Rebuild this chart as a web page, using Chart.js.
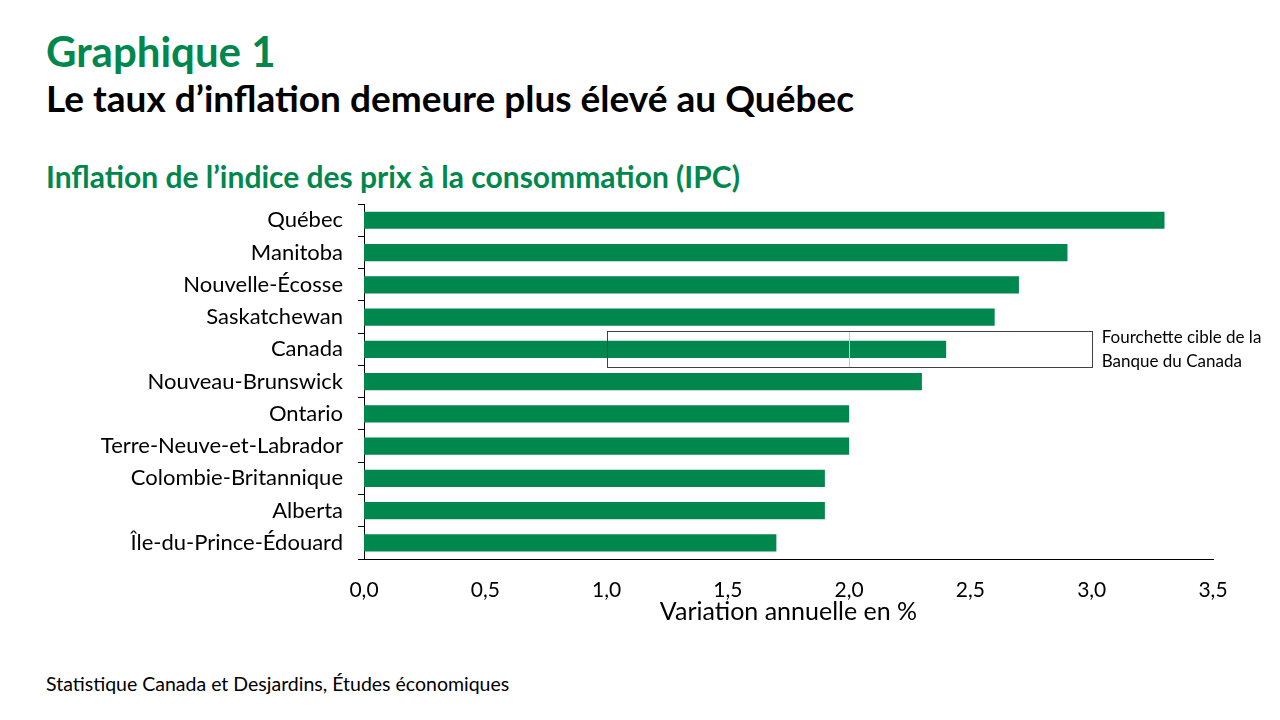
<!DOCTYPE html>
<html lang="fr">
<head>
<meta charset="utf-8">
<script src="https://cdn.jsdelivr.net/npm/chart.js@4"></script>
<style>
  html, body { margin: 0; padding: 0; background: #fff; }
  body { width: 1280px; height: 720px; position: relative; overflow: hidden; font-family: Lato, "Open Sans", sans-serif; }
  .t { position: absolute; left: 46px; white-space: nowrap; line-height: 1; }
  #h1 { top: 30px; font-size: 42px; font-weight: bold; color: #00874e; }
  #h2 { top: 79px; font-size: 37px; font-weight: bold; color: #000; }
  #h3 { top: 161px; font-size: 30px; font-weight: bold; color: #00874e; }
  #src { top: 674px; font-size: 19.5px; color: #000; }
  #wrap { position: absolute; left: 0; top: 176px; width: 1280px; height: 469px; }
</style>
</head>
<body>
<div class="t" id="h1">Graphique 1</div>
<div class="t" id="h2">Le taux d’inflation demeure plus élevé au Québec</div>
<div class="t" id="h3">Inflation de l’indice des prix à la consommation (IPC)</div>
<div class="t" id="src">Statistique Canada et Desjardins, Études économiques</div>
<div id="wrap"><canvas id="c"></canvas></div>
<script>
  const provinces = [
    "Québec", "Manitoba", "Nouvelle-Écosse", "Saskatchewan", "Canada",
    "Nouveau-Brunswick", "Ontario", "Terre-Neuve-et-Labrador",
    "Colombie-Britannique", "Alberta", "Île-du-Prince-Édouard"
  ];
  const inflation = [3.3, 2.9, 2.7, 2.6, 2.4, 2.3, 2.0, 2.0, 1.9, 1.9, 1.7];
  const targetRange = [1.0, 3.0];
  const targetMid = 2.0;
  const targetLabel = ["Fourchette cible de la", "Banque du Canada"];

  const GREEN = "#00874e";
  const FONT = "Lato, 'Open Sans', sans-serif";

  // Box for the Bank of Canada target range, drawn around the Canada bar
  const targetBox = {
    id: "targetBox",
    afterDatasetsDraw(chart) {
      const { ctx, scales: { x, y } } = chart;
      const yc = y.getPixelForValue(provinces.indexOf("Canada"));
      const x0 = x.getPixelForValue(targetRange[0]);
      const x1 = x.getPixelForValue(targetRange[1]);
      const xm = x.getPixelForValue(targetMid);
      const top = yc - 18, bot = yc + 18;
      ctx.save();
      ctx.strokeStyle = "#c8c8c8";
      ctx.lineWidth = 1;
      ctx.beginPath();
      ctx.moveTo(Math.round(xm) + 0.5, top);
      ctx.lineTo(Math.round(xm) + 0.5, bot);
      ctx.stroke();
      ctx.strokeStyle = "#404040";
      ctx.strokeRect(Math.round(x0) + 0.5, Math.round(top) + 0.5, Math.round(x1 - x0), Math.round(bot - top));
      ctx.fillStyle = "#000";
      ctx.font = "17px " + FONT;
      ctx.textBaseline = "middle";
      ctx.fillText(targetLabel[0], x1 + 10, yc - 12);
      ctx.fillText(targetLabel[1], x1 + 10, yc + 12);
      ctx.restore();
    }
  };

  new Chart(document.getElementById("c"), {
    type: "bar",
    data: {
      labels: provinces,
      datasets: [{
        data: inflation,
        backgroundColor: GREEN,
        barPercentage: 0.53,
        categoryPercentage: 1
      }]
    },
    options: {
      indexAxis: "y",
      responsive: true,
      maintainAspectRatio: false,
      animation: false,
      layout: { padding: { top: 6, right: 67, left: 0, bottom: 0 } },
      plugins: { legend: { display: false }, tooltip: { enabled: false } },
      scales: {
        x: {
          min: 0,
          max: 3.5,
          grid: { display: false },
          border: { color: "#000", width: 1 },
          ticks: {
            stepSize: 0.5,
            padding: 11,
            color: "#000",
            font: { family: FONT, size: 21 },
            callback: (v) => Number(v).toFixed(1).replace(".", ",")
          },
          title: {
            display: true,
            text: "Variation annuelle en %",
            color: "#000",
            font: { family: FONT, size: 25 },
            padding: { top: 0, bottom: 18 }
          },
          afterFit: (s) => { s.height = 86; }
        },
        y: {
          grid: { offset: true, drawOnChartArea: false, tickLength: 6, color: "#000" },
          border: { color: "#000", width: 1 },
          ticks: {
            padding: 15,
            color: "#000",
            font: { family: FONT, size: 22 }
          },
          afterFit: (s) => { s.width = 364; }
        }
      }
    },
    plugins: [targetBox]
  });
</script>
</body>
</html>
